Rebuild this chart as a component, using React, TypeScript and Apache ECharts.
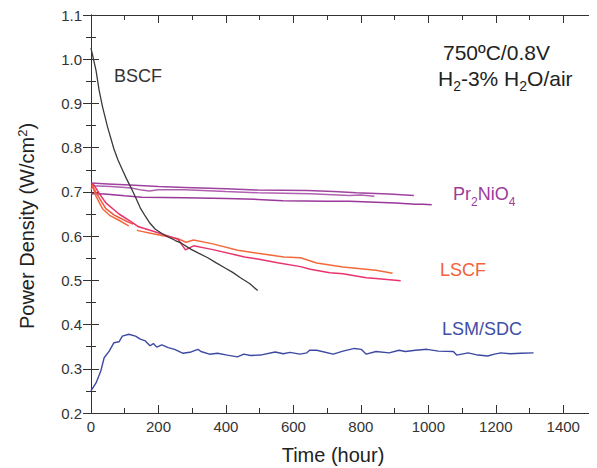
import React, { useEffect, useRef } from "react";
import * as echarts from "echarts";

// ---- data (time in hours, power density in W/cm^2) ----
const xTicks = [0, 200, 400, 600, 800, 1000, 1200, 1400];
const yTicks = [0.2, 0.3, 0.4, 0.5, 0.6, 0.7, 0.8, 0.9, 1.0, 1.1];

const bscf: [number, number][] = [
  [0, 1.025], [3, 1.015], [15, 0.974], [24, 0.93], [34, 0.893], [49, 0.847], [68, 0.797],
  [80, 0.772], [93, 0.75], [105, 0.73], [117, 0.712], [132, 0.688], [146, 0.664], [161, 0.645], [175, 0.629],
  [190, 0.616], [210, 0.606], [229, 0.598], [250, 0.59], [268, 0.584], [297, 0.57],
  [320, 0.561], [346, 0.551], [370, 0.54], [395, 0.529], [420, 0.518], [443, 0.506],
  [470, 0.493], [494, 0.477],
];

const prTop: [number, number][] = [
  [0, 0.72], [50, 0.718], [100, 0.716], [200, 0.712], [278, 0.71], [400, 0.707], [494, 0.704],
  [640, 0.703], [720, 0.701], [786, 0.698], [883, 0.695], [957, 0.692],
];
const prMid: [number, number][] = [
  [0, 0.714], [60, 0.712], [120, 0.709], [150, 0.704], [173, 0.702], [200, 0.705], [278, 0.705],
  [400, 0.701], [494, 0.698], [650, 0.696], [766, 0.692], [800, 0.693], [840, 0.69],
];
const prBot: [number, number][] = [
  [0, 0.696], [40, 0.695], [100, 0.691], [150, 0.688], [278, 0.687], [400, 0.685], [494, 0.683],
  [569, 0.68], [700, 0.679], [766, 0.679], [903, 0.675], [962, 0.672], [985, 0.672], [1010, 0.671],
];

const lscfOrange: ([number, number] | string)[] = [
  [0, 0.705], [5, 0.712], [15, 0.69], [34, 0.662], [55, 0.647], [80, 0.637], [112, 0.623], "-",
  [136, 0.613], [180, 0.606], [258, 0.594], [282, 0.586], [304, 0.591], [358, 0.583],
  [435, 0.568], [494, 0.561], [572, 0.553], [621, 0.551], [669, 0.539], [747, 0.53],
  [845, 0.523], [894, 0.516],
];
const lscfRed: [number, number][] = [
  [3, 0.718], [10, 0.705], [24, 0.687], [44, 0.662], [68, 0.648], [83, 0.642], [112, 0.631], [125, 0.627],
];
const lscfPink: [number, number][] = [
  [5, 0.72], [24, 0.697], [44, 0.675], [83, 0.65], [122, 0.631], [141, 0.621], [180, 0.612],
  [258, 0.593], [280, 0.569], [304, 0.578], [358, 0.57], [455, 0.553], [494, 0.548],
  [553, 0.54], [621, 0.531], [650, 0.525], [708, 0.517], [747, 0.515], [816, 0.506],
  [845, 0.504], [918, 0.499],
];

const lsm: [number, number][] = [
  [0, 0.25], [3, 0.254], [15, 0.268], [29, 0.295], [39, 0.325], [54, 0.34], [68, 0.359], [83, 0.361],
  [93, 0.374], [112, 0.378], [132, 0.374], [146, 0.367], [161, 0.363], [175, 0.352], [185, 0.357],
  [195, 0.349], [210, 0.354], [229, 0.348], [248, 0.344], [273, 0.335], [297, 0.338], [317, 0.344],
  [326, 0.339], [351, 0.333], [375, 0.335], [404, 0.331], [434, 0.327], [453, 0.333], [473, 0.33],
  [502, 0.331], [546, 0.338], [570, 0.334], [590, 0.337], [619, 0.333], [640, 0.336], [648, 0.342],
  [669, 0.342], [718, 0.333], [747, 0.34], [781, 0.346], [801, 0.344], [816, 0.333], [845, 0.339],
  [884, 0.336], [913, 0.342], [932, 0.339], [962, 0.342], [996, 0.344], [1030, 0.34], [1074, 0.339],
  [1084, 0.331], [1118, 0.336], [1147, 0.331], [1176, 0.329], [1196, 0.333], [1215, 0.336],
  [1244, 0.334], [1274, 0.335], [1312, 0.336],
];

const FONT = "Arial, 'Liberation Sans', Helvetica, sans-serif";
const AXIS = "#333333";

export default function App() {
  const ref = useRef<HTMLDivElement>(null);
  useEffect(() => {
    if (!ref.current) return;
    const chart = echarts.init(ref.current, null, { renderer: "svg" });
    const tickCommon = {
      axisLine: { show: true, lineStyle: { color: AXIS, width: 1 } },
      axisTick: { show: true, inside: true, length: 8, lineStyle: { color: AXIS } },
      minorTick: { show: true, splitNumber: 2, length: 5, lineStyle: { color: AXIS } },
      splitLine: { show: false },
      minorSplitLine: { show: false },
    };
    const xBase = { type: "value", min: 0, max: 1500, interval: 200, ...tickCommon };
    const yBase = { type: "value", min: 0.2, max: 1.1, interval: 0.1, ...tickCommon };
    const line = (data: any[], color: string, width = 1.5) => ({
      type: "line",
      data,
      showSymbol: false,
      symbol: "none",
      connectNulls: false,
      lineStyle: { color, width },
      itemStyle: { color },
      z: 2,
    });
    const txt = (x: number, y: number, text: string, color: string, size: number, rich?: any) => ({
      type: "text",
      x,
      y,
      style: {
        text,
        fill: color,
        fontSize: size,
        fontFamily: FONT,
        textAlign: "left",
        textVerticalAlign: "middle",
        rich,
      },
    });
    const sub = (size: number, color: string, pad: number) => ({
      sub: { fontSize: size, fontFamily: FONT, fill: color, color, padding: [pad, 0, 0, 0] },
    });
    chart.setOption({
      animation: false,
      grid: { left: 91, top: 15, right: -7, bottom: 55, containLabel: false },
      xAxis: [
        {
          ...xBase,
          position: "bottom",
          axisLabel: {
            show: true,
            color: "#333",
            fontSize: 15,
            fontFamily: FONT,
            margin: 6,
            showMaxLabel: false,
            formatter: (v: number) => (xTicks.includes(v) ? String(v) : ""),
          },
        },
        { ...xBase, position: "top", axisLabel: { show: false } },
      ],
      yAxis: [
        {
          ...yBase,
          position: "left",
          axisLabel: {
            show: true,
            color: "#333",
            fontSize: 15,
            fontFamily: FONT,
            margin: 9,
            formatter: (v: number) => {
              const r = Math.round(v * 10) / 10;
              return yTicks.some((t) => Math.abs(t - r) < 1e-6) ? r.toFixed(1) : "";
            },
          },
        },
        { ...yBase, position: "right", axisLabel: { show: false } },
      ],
      series: [
        line(prTop, "#a0429f"),
        line(prMid, "#b060b0"),
        line(prBot, "#9a3799"),
        line(lscfOrange, "#f26a3c"),
        line(lscfRed, "#f2563f"),
        line(lscfPink, "#e9336c"),
        line(bscf, "#3a3a3a", 1.3),
        line(lsm, "#3d49a3", 1.4),
      ],
      graphic: [
        txt(114, 76, "BSCF", "#333", 18),
        txt(443, 52, "750ºC/0.8V", "#222", 21),
        txt(438, 78, "H{sub|2}-3% H{sub|2}O/air", "#222", 21, sub(14, "#222", 16)),
        txt(453, 194, "Pr{sub|2}NiO{sub|4}", "#9c3b9c", 18, sub(12, "#9c3b9c", 15)),
        txt(440, 270, "LSCF", "#f4603c", 18),
        txt(442, 329, "LSM/SDC", "#3f4ea6", 18),
        {
          type: "text",
          x: 333,
          y: 455,
          style: {
            text: "Time (hour)",
            fill: "#222",
            fontSize: 20,
            fontFamily: FONT,
            textAlign: "center",
            textVerticalAlign: "middle",
          },
        },
        {
          type: "text",
          x: 27,
          y: 226,
          rotation: Math.PI / 2,
          style: {
            text: "Power Density (W/cm{sup|2})",
            fill: "#222",
            fontSize: 20,
            fontFamily: FONT,
            textAlign: "center",
            textVerticalAlign: "middle",
            rich: {
              sup: { fontSize: 13, fontFamily: FONT, fill: "#222", color: "#222", padding: [0, 0, 10, 0] },
            },
          },
        },
      ],
    });
    return () => chart.dispose();
  }, []);
  return <div ref={ref} style={{ width: 597, height: 468, marginLeft: -8, marginTop: -8 }} />;
}
